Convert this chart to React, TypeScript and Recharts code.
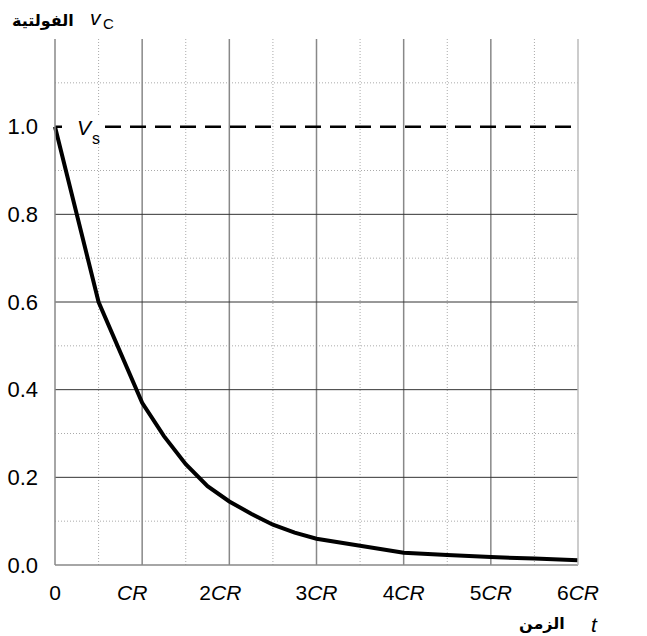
import React from "react";
import {
  LineChart,
  Line,
  XAxis,
  YAxis,
  ReferenceLine,
} from "recharts";

// time in units of CR, capacitor voltage as a fraction of Vs
const times = [0, 0.5, 1, 1.25, 1.5, 1.75, 2, 2.25, 2.5, 2.75, 3, 3.5, 4, 4.5, 5, 5.5, 6];
const voltages = [1.0, 0.6, 0.37, 0.294, 0.23, 0.18, 0.145, 0.117, 0.092, 0.074, 0.06, 0.044, 0.028, 0.023, 0.018, 0.015, 0.011];

const xTicks = [0, 1, 2, 3, 4, 5, 6];
const yTicks = [0, 0.2, 0.4, 0.6, 0.8, 1.0];
const majorH = [0.2, 0.4, 0.6, 0.8];
const minorH = [0.1, 0.3, 0.5, 0.7, 0.9, 1.1];
const majorV = [1, 2, 3, 4, 5];
const minorV = [0.5, 1.5, 2.5, 3.5, 4.5, 5.5];

const data = times.map((t, i) => ({ t, v: voltages[i] }));

const FONT = "'Liberation Sans', Arial, sans-serif";
const AR_FONT = "'DejaVu Sans', sans-serif";

// the CR and 2CR labels sit a little left of their grid lines
const tickShift: Record<number, number> = { 1: -10, 2: -9 };

const TimeTick = (props: any) => {
  const { x, y, payload } = props;
  const n = payload.value;
  return (
    <text
      x={x + (tickShift[n] || 0)}
      y={y + 27}
      textAnchor="middle"
      fontFamily={FONT}
      fontSize={21}
      fill="#000"
    >
      {n === 0 ? (
        "0"
      ) : (
        <>
          {n > 1 ? <tspan>{n}</tspan> : null}
          <tspan fontStyle="italic">CR</tspan>
        </>
      )}
    </text>
  );
};

const VsLabel = (props: any) => {
  const { viewBox } = props;
  const y = viewBox.y;
  return (
    <g>
      <rect x={62} y={y - 10} width={40} height={20} fill="#fff" />
      <text x={77} y={y + 8} fontFamily={FONT} fontSize={21} fontStyle="italic" fill="#000">
        V
      </text>
      <text x={92} y={y + 17} fontFamily={FONT} fontSize={16} fill="#000">
        s
      </text>
    </g>
  );
};

export default function App() {
  return (
    <div style={{ position: "absolute", left: 0, top: 0, width: 647, height: 636, background: "#fff" }}>
      <LineChart
        width={647}
        height={636}
        data={data}
        margin={{ top: 39, right: 0, bottom: 0, left: 0 }}
      >
        <XAxis
          dataKey="t"
          type="number"
          domain={[0, 6]}
          ticks={xTicks}
          height={71}
          tick={<TimeTick />}
          tickLine={false}
          axisLine={{ stroke: "#888", strokeWidth: 1.5 }}
        />
        <YAxis
          yAxisId="left"
          type="number"
          domain={[0, 1.2]}
          ticks={yTicks}
          width={55}
          tickLine={false}
          tickMargin={11}
          tickFormatter={(v: number) => v.toFixed(1)}
          tick={{ fill: "#000", fontSize: 22, fontFamily: FONT }}
          axisLine={{ stroke: "#888", strokeWidth: 1.5 }}
        />
        <YAxis
          yAxisId="right"
          orientation="right"
          type="number"
          domain={[0, 1.2]}
          ticks={yTicks}
          width={69}
          tickLine={false}
          tickMargin={3}
          tickFormatter={(v: number) => `${Math.round(v * 100)}%`}
          tick={{ fill: "#000", fontSize: 22, fontFamily: FONT }}
          axisLine={{ stroke: "#bbb", strokeWidth: 1.5 }}
        />

        {minorH.map((v) => (
          <ReferenceLine key={`mh${v}`} yAxisId="left" y={v} stroke="#aaa" strokeDasharray="1 2" />
        ))}
        {minorV.map((v) => (
          <ReferenceLine key={`mv${v}`} yAxisId="left" x={v} stroke="#aaa" strokeDasharray="1 2" />
        ))}
        {majorV.map((v) => (
          <ReferenceLine key={`Mv${v}`} yAxisId="left" x={v} stroke="#888" strokeWidth={1.5} />
        ))}
        {majorH.map((v) => (
          <ReferenceLine key={`Mh${v}`} yAxisId="left" y={v} stroke="#333" strokeWidth={1} />
        ))}
        <ReferenceLine
          yAxisId="left"
          y={1}
          stroke="#000"
          strokeWidth={2.5}
          strokeDasharray="16 9"
          label={<VsLabel />}
        />

        <Line
          yAxisId="left"
          type="linear"
          dataKey="v"
          stroke="#000"
          strokeWidth={4}
          dot={false}
          isAnimationActive={false}
        />

        {/* axis titles */}
        <text x={12} y={26} fontFamily={AR_FONT} fontWeight="bold" fontSize={16} fill="#000">
          الفولتية
        </text>
        <text x={90} y={25} fontFamily={FONT} fontStyle="italic" fontSize={21} fill="#000">
          v
        </text>
        <text x={103} y={29} fontFamily={FONT} fontSize={15} fill="#000">
          C
        </text>
        <text x={519} y={629} fontFamily={AR_FONT} fontWeight="bold" fontSize={16} fill="#000">
          الزمن
        </text>
        <text x={591} y={632} fontFamily={FONT} fontStyle="italic" fontSize={21} fill="#000">
          t
        </text>
      </LineChart>
    </div>
  );
}
